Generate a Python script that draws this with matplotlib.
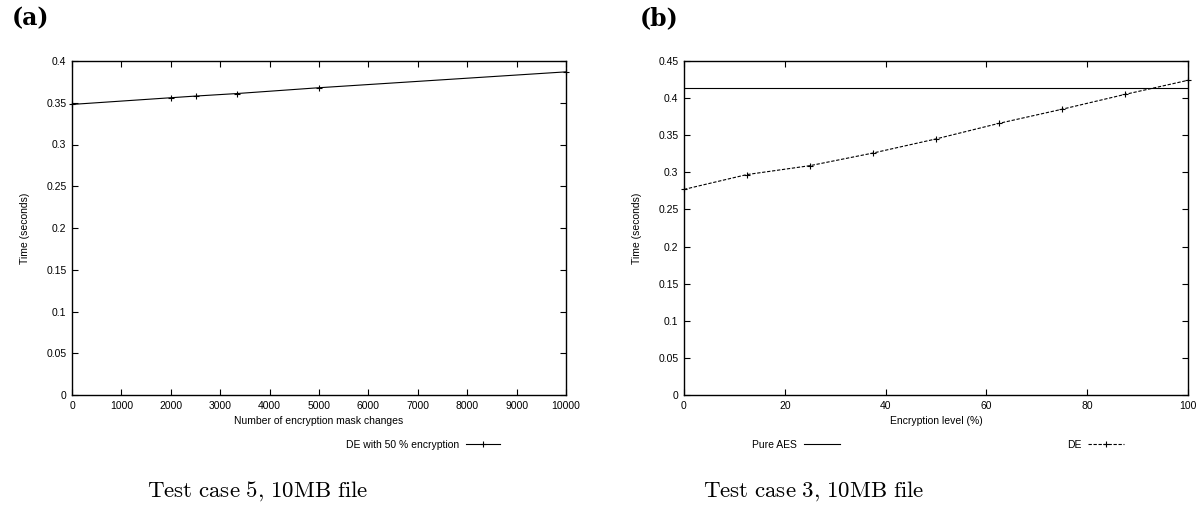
import matplotlib.pyplot as plt
from matplotlib.lines import Line2D

plt.rcParams['font.family'] = ['Liberation Sans', 'DejaVu Sans']
plt.rcParams['mathtext.fontset'] = 'cm'

# Panel (a): test case 5
mask_changes = [0, 2000, 2500, 3333, 5000, 10000]
time_a = [0.348, 0.356, 0.358, 0.361, 0.368, 0.387]
xticks_a = list(range(0, 10001, 1000))
yticks_a = [0, 0.05, 0.1, 0.15, 0.2, 0.25, 0.3, 0.35, 0.4]
ylabels_a = ['0', '0.05', '0.1', '0.15', '0.2', '0.25', '0.3', '0.35', '0.4']

# Panel (b): test case 3
enc_level = [0, 12.5, 25, 37.5, 50, 62.5, 75, 87.5, 100]
time_de = [0.277, 0.297, 0.309, 0.326, 0.345, 0.366, 0.385, 0.405, 0.424]
pure_aes = 0.413
xticks_b = [0, 20, 40, 60, 80, 100]
yticks_b = [0, 0.05, 0.1, 0.15, 0.2, 0.25, 0.3, 0.35, 0.4, 0.45]
ylabels_b = ['0', '0.05', '0.1', '0.15', '0.2', '0.25', '0.3', '0.35', '0.4', '0.45']

FS = 7.5
LW = 0.8
MS = 5

fig = plt.figure(figsize=(12, 5.24), dpi=100)
ax1 = fig.add_axes([72/1200, 1-395/524, (566-72)/1200, (395-61)/524])
ax2 = fig.add_axes([684/1200, 1-395/524, (1188-684)/1200, (395-61)/524])


def style(ax):
    ax.tick_params(direction='in', top=True, right=True, length=4, width=0.8,
                   labelsize=FS, pad=4)
    for s in ax.spines.values():
        s.set_linewidth(1.0)


# (a)
ax1.plot(mask_changes, time_a, color='black', lw=LW, marker='+', ms=MS, mew=0.8,
         clip_on=False)
ax1.set_xlim(0, 10000)
ax1.set_ylim(0, 0.4)
ax1.set_xticks(xticks_a)
ax1.set_yticks(yticks_a)
ax1.set_yticklabels(ylabels_a)
ax1.set_xlabel('Number of encryption mask changes', fontsize=FS, labelpad=4)
ax1.set_ylabel('Time (seconds)', fontsize=FS, labelpad=12)
style(ax1)

h_a = Line2D([], [], color='black', lw=LW, marker='+', ms=MS, mew=0.8)
fig.legend([h_a], ['DE with 50 % encryption'], loc='center right',
           bbox_to_anchor=(500/1200, 1-445/524), frameon=False, fontsize=FS,
           markerfirst=False, handlelength=3.3, handletextpad=0.6,
           borderaxespad=0, borderpad=0)

# (b)
ax2.axhline(pure_aes, color='black', lw=LW)
ax2.plot(enc_level, time_de, color='black', lw=LW, ls=(0, (3, 1.5)), marker='+',
         ms=MS, mew=0.8, clip_on=False)
ax2.set_xlim(0, 100)
ax2.set_ylim(0, 0.45)
ax2.set_xticks(xticks_b)
ax2.set_yticks(yticks_b)
ax2.set_yticklabels(ylabels_b)
ax2.set_xlabel('Encryption level (%)', fontsize=FS, labelpad=4)
ax2.set_ylabel('Time (seconds)', fontsize=FS, labelpad=12)
style(ax2)

h_aes = Line2D([], [], color='black', lw=LW)
h_de = Line2D([], [], color='black', lw=LW, ls=(0, (3, 1.5)), marker='+', ms=MS, mew=0.8)
fig.legend([h_aes], ['Pure AES'], loc='center right',
           bbox_to_anchor=(840/1200, 1-445/524), frameon=False, fontsize=FS,
           markerfirst=False, handlelength=3.5, handletextpad=0.6,
           borderaxespad=0, borderpad=0)
fig.legend([h_de], ['DE'], loc='center right',
           bbox_to_anchor=(1124/1200, 1-445/524), frameon=False, fontsize=FS,
           markerfirst=False, handlelength=3.5, handletextpad=0.6,
           borderaxespad=0, borderpad=0)

# panel letters and captions
fig.text(12/1200, 1-18/524, '(a)', fontsize=17, fontweight='bold',
         family='DejaVu Serif', va='center', ha='left')
fig.text(640/1200, 1-18/524, '(b)', fontsize=17, fontweight='bold',
         family='DejaVu Serif', va='center', ha='left')
fig.text(258/1200, 1-491/524, r'$\mathrm{Test\ case\ 5{,}\ 10MB\ file}$',
         fontsize=16.5, ha='center', va='center')
fig.text(814/1200, 1-491/524, r'$\mathrm{Test\ case\ 3{,}\ 10MB\ file}$',
         fontsize=16.5, ha='center', va='center')

fig.savefig('out.png', dpi=100)
